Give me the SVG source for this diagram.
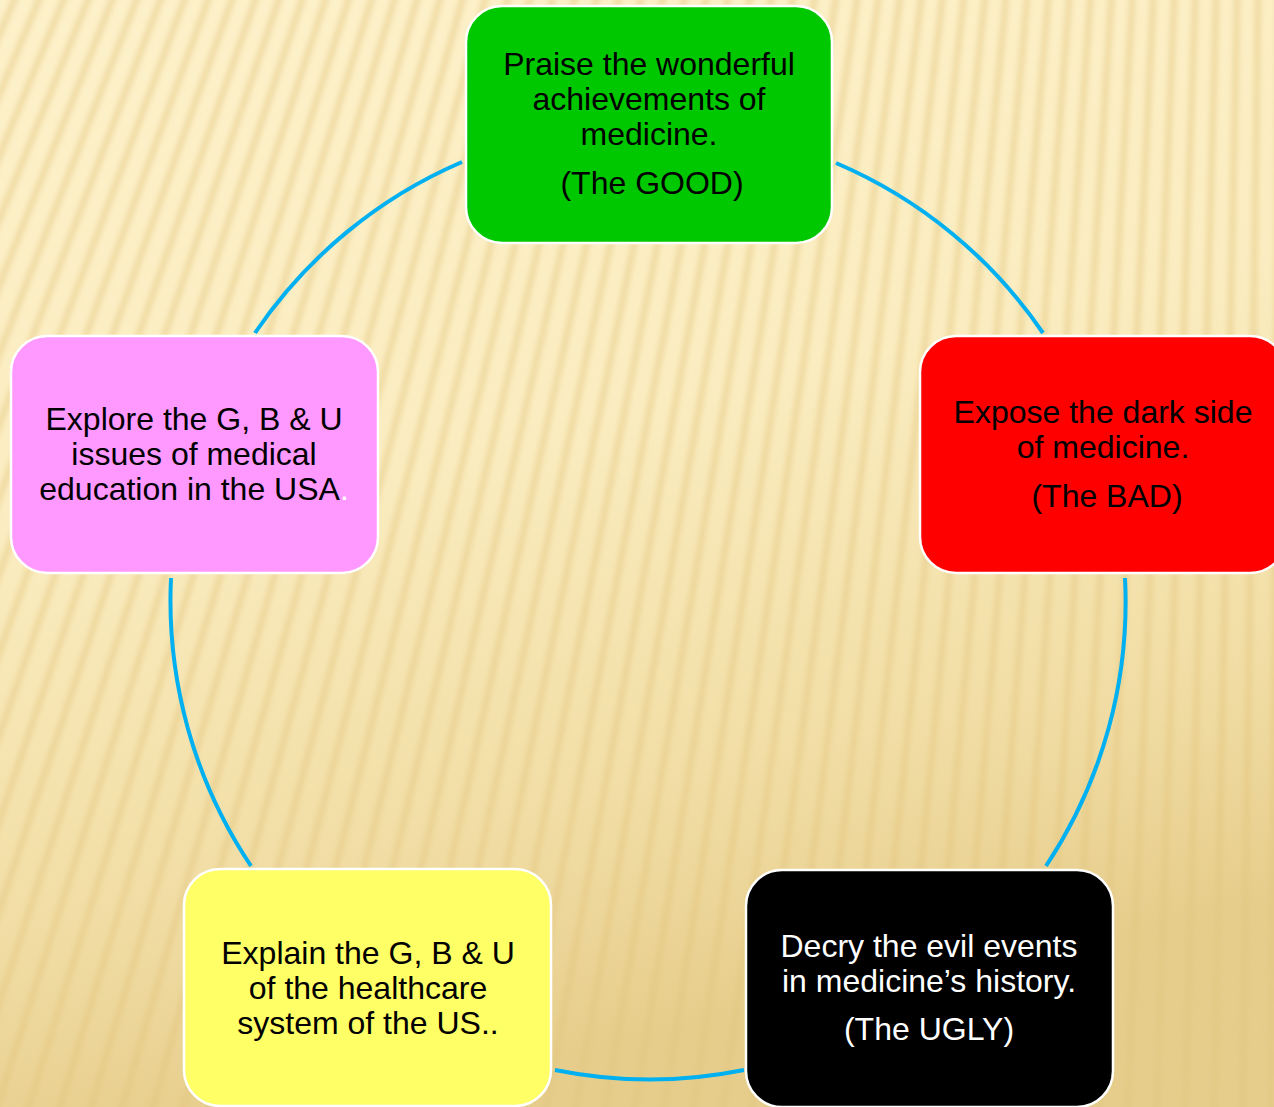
<svg xmlns="http://www.w3.org/2000/svg" xmlns:xlink="http://www.w3.org/1999/xlink" width="1274" height="1107" viewBox="0 0 1274 1107">
<defs>
<linearGradient id="bg" x1="0" y1="0" x2="0.25" y2="1">
<stop offset="0" stop-color="#FDF1CA"/>
<stop offset="0.45" stop-color="#FBEDC1"/>
<stop offset="0.8" stop-color="#F1DDA4"/>
<stop offset="1" stop-color="#E6CD8C"/>
</linearGradient>
<filter id="soft" x="-10%" y="-10%" width="120%" height="120%"><feGaussianBlur stdDeviation="2.5"/></filter>
<line id="st" x1="1300" y1="-3000" x2="1300" y2="1500" stroke="#E2C57E" stroke-width="7" stroke-opacity="0.45"/>
<style>
.box{stroke:#FFFFFF;stroke-width:2.5}
.t{font-family:"Liberation Sans",Arial,sans-serif;font-size:32px;text-anchor:middle;fill:#000000}
.w{fill:#FFFFFF}
.arc{fill:none;stroke:#00B0F0;stroke-width:4}
</style>
</defs>
<rect x="0" y="0" width="1274" height="1107" fill="url(#bg)"/>
<g id="stripes" filter="url(#soft)">
<use xlink:href="#st" transform="rotate(-1.2 1300 -3000)"/>
<use xlink:href="#st" transform="rotate(-0.8 1300 -3000)"/>
<use xlink:href="#st" transform="rotate(-0.4 1300 -3000)"/>
<use xlink:href="#st" transform="rotate(0 1300 -3000)"/>
<use xlink:href="#st" transform="rotate(0.4 1300 -3000)"/>
<use xlink:href="#st" transform="rotate(0.8 1300 -3000)"/>
<use xlink:href="#st" transform="rotate(1.2 1300 -3000)"/>
<use xlink:href="#st" transform="rotate(1.6 1300 -3000)"/>
<use xlink:href="#st" transform="rotate(2.0 1300 -3000)"/>
<use xlink:href="#st" transform="rotate(2.4 1300 -3000)"/>
<use xlink:href="#st" transform="rotate(2.8 1300 -3000)"/>
<use xlink:href="#st" transform="rotate(3.2 1300 -3000)"/>
<use xlink:href="#st" transform="rotate(3.6 1300 -3000)"/>
<use xlink:href="#st" transform="rotate(4.0 1300 -3000)"/>
<use xlink:href="#st" transform="rotate(4.4 1300 -3000)"/>
<use xlink:href="#st" transform="rotate(4.8 1300 -3000)"/>
<use xlink:href="#st" transform="rotate(5.2 1300 -3000)"/>
<use xlink:href="#st" transform="rotate(5.6 1300 -3000)"/>
<use xlink:href="#st" transform="rotate(6.0 1300 -3000)"/>
<use xlink:href="#st" transform="rotate(6.4 1300 -3000)"/>
<use xlink:href="#st" transform="rotate(6.8 1300 -3000)"/>
<use xlink:href="#st" transform="rotate(7.2 1300 -3000)"/>
<use xlink:href="#st" transform="rotate(7.6 1300 -3000)"/>
<use xlink:href="#st" transform="rotate(8.0 1300 -3000)"/>
<use xlink:href="#st" transform="rotate(8.4 1300 -3000)"/>
<use xlink:href="#st" transform="rotate(8.8 1300 -3000)"/>
<use xlink:href="#st" transform="rotate(9.2 1300 -3000)"/>
<use xlink:href="#st" transform="rotate(9.6 1300 -3000)"/>
<use xlink:href="#st" transform="rotate(10.0 1300 -3000)"/>
<use xlink:href="#st" transform="rotate(10.4 1300 -3000)"/>
<use xlink:href="#st" transform="rotate(10.8 1300 -3000)"/>
<use xlink:href="#st" transform="rotate(11.2 1300 -3000)"/>
<use xlink:href="#st" transform="rotate(11.6 1300 -3000)"/>
<use xlink:href="#st" transform="rotate(12.0 1300 -3000)"/>
<use xlink:href="#st" transform="rotate(12.4 1300 -3000)"/>
<use xlink:href="#st" transform="rotate(12.8 1300 -3000)"/>
<use xlink:href="#st" transform="rotate(13.2 1300 -3000)"/>
<use xlink:href="#st" transform="rotate(13.6 1300 -3000)"/>
<use xlink:href="#st" transform="rotate(14.0 1300 -3000)"/>
<use xlink:href="#st" transform="rotate(14.4 1300 -3000)"/>
<use xlink:href="#st" transform="rotate(14.8 1300 -3000)"/>
<use xlink:href="#st" transform="rotate(15.2 1300 -3000)"/>
<use xlink:href="#st" transform="rotate(15.6 1300 -3000)"/>
<use xlink:href="#st" transform="rotate(16.0 1300 -3000)"/>
<use xlink:href="#st" transform="rotate(16.4 1300 -3000)"/>
<use xlink:href="#st" transform="rotate(16.8 1300 -3000)"/>
<use xlink:href="#st" transform="rotate(17.2 1300 -3000)"/>
<use xlink:href="#st" transform="rotate(17.6 1300 -3000)"/>
<use xlink:href="#st" transform="rotate(18.0 1300 -3000)"/>
<use xlink:href="#st" transform="rotate(18.4 1300 -3000)"/>
<use xlink:href="#st" transform="rotate(18.8 1300 -3000)"/>
<use xlink:href="#st" transform="rotate(19.2 1300 -3000)"/>
<use xlink:href="#st" transform="rotate(19.6 1300 -3000)"/>
<use xlink:href="#st" transform="rotate(20.0 1300 -3000)"/>
<use xlink:href="#st" transform="rotate(20.4 1300 -3000)"/>
<use xlink:href="#st" transform="rotate(20.8 1300 -3000)"/>
<use xlink:href="#st" transform="rotate(21.2 1300 -3000)"/>
<use xlink:href="#st" transform="rotate(21.6 1300 -3000)"/>
<use xlink:href="#st" transform="rotate(22.0 1300 -3000)"/>
<use xlink:href="#st" transform="rotate(22.4 1300 -3000)"/>
<use xlink:href="#st" transform="rotate(22.8 1300 -3000)"/>
<use xlink:href="#st" transform="rotate(23.2 1300 -3000)"/>
<use xlink:href="#st" transform="rotate(23.6 1300 -3000)"/>
<use xlink:href="#st" transform="rotate(24.0 1300 -3000)"/>
</g>
<g id="connectors">
<path class="arc" d="M 836 163 A 477 477 0 0 1 1043 333"/>
<path class="arc" d="M 1125 578 A 477 477 0 0 1 1046 866"/>
<path class="arc" d="M 744 1070 A 477 477 0 0 1 555 1070"/>
<path class="arc" d="M 251 866 A 477 477 0 0 1 171 578"/>
<path class="arc" d="M 255 333 A 477 477 0 0 1 462 162"/>
</g>
<g id="node-good">
<rect class="box" x="466" y="6" width="366" height="237" rx="36" fill="#00C800"/>
<text class="t" x="649" y="75">Praise the wonderful</text>
<text class="t" x="649" y="110">achievements of</text>
<text class="t" x="649" y="145">medicine.</text>
<text class="t" x="652" y="194">(The GOOD)</text>
</g>
<g id="node-bad">
<rect class="box" x="920" y="336" width="366" height="237" rx="36" fill="#FF0000"/>
<text class="t" x="1103" y="423">Expose the dark side</text>
<text class="t" x="1103" y="458">of medicine.</text>
<text class="t" x="1107" y="507">(The BAD)</text>
</g>
<g id="node-ugly">
<rect class="box" x="746" y="870" width="367" height="237" rx="36" fill="#000000"/>
<text class="t w" x="929" y="957">Decry the evil events</text>
<text class="t w" x="929" y="992">in medicine’s history.</text>
<text class="t w" x="929" y="1040">(The UGLY)</text>
</g>
<g id="node-healthcare">
<rect class="box" x="184" y="869" width="367" height="237" rx="36" fill="#FFFF66"/>
<text class="t" x="368" y="964">Explain the G, B &amp; U</text>
<text class="t" x="368" y="999">of the healthcare</text>
<text class="t" x="368" y="1034">system of the US..</text>
</g>
<g id="node-education">
<rect class="box" x="11" y="336" width="367" height="237" rx="36" fill="#FF99FF"/>
<text class="t" x="194" y="430">Explore the G, B &amp; U</text>
<text class="t" x="194" y="465">issues of medical</text>
<text class="t" x="194" y="500">education in the USA<tspan fill="#FFFFFF">.</tspan></text>
</g>
</svg>
